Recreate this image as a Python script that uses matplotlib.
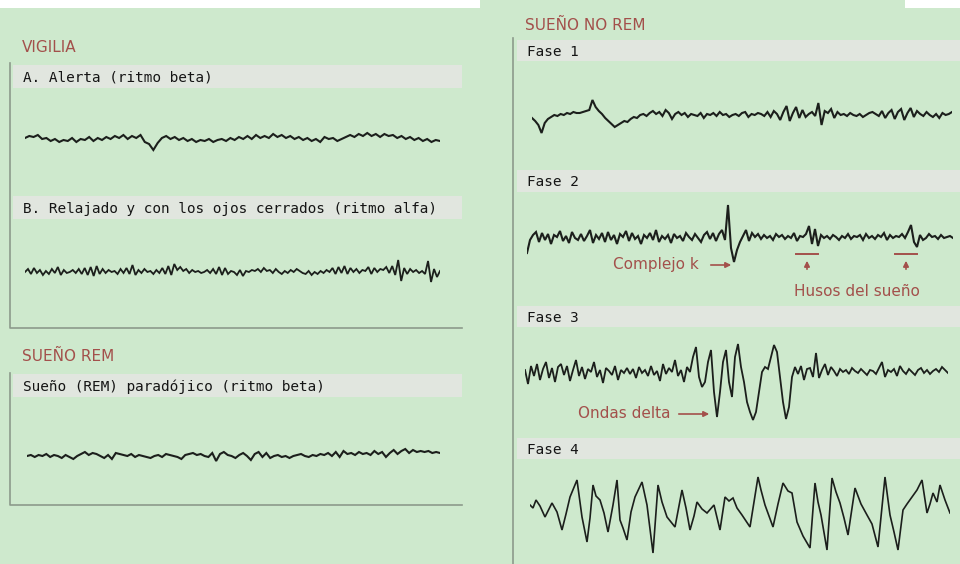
import numpy as np
import matplotlib
matplotlib.use("Agg")
import matplotlib.pyplot as plt
from matplotlib.patches import Rectangle

W, H = 960, 564
BG = "#cee9cd"
BAR = "#e1e6df"
RED = "#a3504b"
INK = "#1c1f1c"
EDGE = "#8c9a8b"

# EEG traces, amplitude in px-like units (up = positive), one value per sample
alerta = [2,4,3,5,1,2,-1,1,-2,0,-1,2,-2,1,0,3,-1,2,0,3,1,4,2,5,1,4,2,5,-2,-4,-10,-3,2,4,1,3,0,2,-1,1,
          -2,0,-1,1,-2,0,1,-1,2,0,3,1,4,1,5,2,4,2,6,3,5,2,4,1,3,0,2,-1,1,-2,3,1,2,-1,1,3,5,3,6,4,
          7,4,6,3,6,4,5,2,4,1,3,0,2,-1,1,-2,0,-1]
alfa = [0,3,-2,4,-1,2,-3,1,-2,3,-1,5,-3,2,-1,0,2,-1,3,-2,4,-3,5,-4,6,-2,3,-1,2,0,1,-2,3,-1,4,-2,7,-3,2,-1,
        3,0,1,-2,2,-1,4,-2,6,-3,8,2,5,1,3,-1,2,0,1,-1,0,2,-1,3,-2,5,-3,4,-2,1,0,-3,2,-4,1,0,2,1,3,0,
        4,1,2,-1,3,0,-2,1,-1,2,0,3,1,-1,-2,1,-3,0,-2,1,-1,2,0,4,-2,5,-1,6,-2,4,0,3,-1,2,1,5,-2,4,0,3,
        2,5,-1,6,-3,12,-9,4,-2,3,0,2,-1,1,-2,11,-10,3,-5,1]
rem = [0,1,-1,1,0,2,-1,1,0,-2,1,-1,-3,0,2,4,1,3,2,0,-2,1,-3,3,2,1,0,2,-1,1,0,-1,-2,0,1,-1,2,1,0,-1,
       -3,1,2,3,1,2,0,-1,3,-5,2,4,1,0,-2,1,3,0,-4,2,4,-1,3,-2,0,1,-1,0,-2,0,1,2,0,-1,1,0,2,1,3,0,
       4,-1,5,2,3,1,4,2,3,1,5,2,4,-1,3,6,2,5,7,3,6,4,5,4,5,3,4,3]
fase1 = [-3,-6,-10,-18,-8,-4,-2,0,-1,1,0,2,1,3,2,2,3,4,5,15,8,4,1,-3,-6,-9,-12,-10,-8,-6,-7,-4,-2,-3,0,1,-1,2,4,1,
         3,-1,5,2,-4,1,3,0,2,-2,1,0,-1,2,-3,1,0,2,-1,3,0,1,-2,0,1,-1,2,3,-2,1,0,2,1,-1,3,-2,4,1,-5,3,
         9,-6,2,8,-3,5,-2,1,3,-1,12,-10,4,2,6,-3,3,0,1,-1,2,0,-1,1,-2,0,2,3,1,-1,4,-3,2,5,-4,3,6,-5,2,7,
         -2,4,1,-1,3,0,-2,1,-3,2,0,1,3]
fase2 = [-15,-2,3,6,-4,5,-2,4,-6,3,1,7,-3,2,-5,6,0,-2,4,-3,2,8,-5,3,-1,5,-4,6,-2,3,-6,4,1,7,-3,5,-1,2,-6,3,
         0,5,-2,8,-4,2,-1,3,-5,4,0,2,-3,5,1,-2,4,0,-4,3,6,-1,5,-3,4,8,-2,33,-10,-24,-12,-4,2,8,-3,5,1,4,-1,3,
         0,2,-2,4,1,3,-1,2,0,5,-3,2,1,4,12,-6,9,-8,3,0,2,-1,3,1,-2,2,0,4,-1,2,1,3,-2,4,0,2,-1,3,1,5,
         -2,3,0,2,1,4,0,6,13,-4,-9,3,-2,0,4,1,2,-1,3,0,1,2,0]
fase3 = [2,-12,6,-4,8,-8,3,10,-6,4,-10,5,8,-3,6,-9,2,12,-4,5,-7,3,0,10,-5,2,-11,4,1,-3,
         6,-8,2,-1,4,-2,3,-6,5,-1,2,-4,6,-3,1,-9,8,-2,4,0,12,-4,2,-10,5,
         0,15,25,-5,-15,-10,10,22,-20,-45,-20,10,22,-10,-25,15,28,5,-10,-30,-40,-48,-40,-20,0,5,3,15,27,20,
         -5,-30,-47,-35,-5,5,
         -2,6,-8,3,4,-5,19,-6,2,8,-3,5,1,-4,3,0,2,-2,4,1,-1,3,0,-3,2,1,-2,4,10,-5,2,0,3,-4,6,1,-2,3,0,-3,
         2,4,-1,2,-2,1,3,0,5,2,-1]
fase4_t = [0,3,6,10,15,18,22,27,32,36,40,47,52,57,60,63,66,70,74,78,83,87,90,93,97,101,105,112,117,123,
           128,132,137,141,145,152,156,160,164,167,172,177,184,190,195,199,203,207,212,216,220,228,231,235,239,243,
           248,253,258,262,267,273,280,285,288,291,297,302,306,310,314,318,325,331,337,342,348,355,358,360,364,
           368,373,377,382,387,392,397,400,403,407,410,415,420]
fase4_v = [5,2,10,4,-7,-1,7,-2,-20,-4,13,30,-7,-32,-8,25,14,10,-3,-22,5,30,-10,-18,-30,-2,13,28,5,-43,
           25,8,-7,-12,-17,20,2,-20,-6,8,1,-3,5,-20,13,9,12,2,-5,-11,-17,33,20,5,-6,-17,
           6,27,19,17,-12,-26,-38,27,8,-5,-40,32,18,7,-8,-25,22,6,-5,-14,-37,33,10,-5,-22,
           -40,0,6,13,20,30,-3,6,17,8,25,10,-3]

fig = plt.figure(figsize=(W / 100, H / 100), dpi=100, facecolor=BG)
ax = fig.add_axes([0, 0, 1, 1])
ax.set_xlim(0, W)
ax.set_ylim(H, 0)
ax.axis("off")
ax.set_facecolor(BG)

# white strip at the top
ax.add_patch(Rectangle((0, 0), 480, 8, color="white", lw=0))
ax.add_patch(Rectangle((905, 0), 55, 8, color="white", lw=0))

def bar(x0, x1, y0, y1, label):
    ax.add_patch(Rectangle((x0, y0), x1 - x0, y1 - y0, color=BAR, lw=0))
    ax.text(x0 + 10, (y0 + y1) / 2 + 1, label, fontsize=10.4, color="#151515",
            va="center", ha="left", family="DejaVu Sans Mono")

def section(x, y, label):
    ax.text(x, y, label, fontsize=11, color=RED, va="center", ha="left", family="DejaVu Sans")

def trace(values, x0, x1, base, half=55, t=None, lw=1.5):
    a = fig.add_axes([x0 / W, 1 - (base + half) / H, (x1 - x0) / W, 2 * half / H])
    a.axis("off")
    if t is None:
        t = np.arange(len(values))
    a.set_xlim(min(t), max(t))
    a.set_ylim(-half, half)
    a.plot(t, values, color=INK, lw=lw, solid_joinstyle="miter")

# left column
section(22, 47, "VIGILIA")
ax.plot([10, 10, 462], [63, 328, 328], color=EDGE, lw=1.2)
bar(13, 462, 65, 88, "A. Alerta (ritmo beta)")
bar(13, 462, 196, 219, "B. Relajado y con los ojos cerrados (ritmo alfa)")

section(22, 356, "SUEÑO REM")
ax.plot([10, 10, 462], [373, 505, 505], color=EDGE, lw=1.2)
bar(13, 462, 374, 397, "Sueño (REM) paradójico (ritmo beta)")

# right column
section(525, 25, "SUEÑO NO REM")
ax.plot([513, 513], [38, 564], color=EDGE, lw=1.2)
bar(517, 960, 40, 61, "Fase 1")
bar(517, 960, 170, 192, "Fase 2")
bar(517, 960, 306, 327, "Fase 3")
bar(517, 960, 438, 459, "Fase 4")

trace(alerta, 25, 440, 140)
trace(alfa, 25, 440, 272, lw=1.3)
trace(rem, 27, 440, 456)
trace(fase1, 532, 952, 115)
trace(fase2, 527, 953, 238)
trace(fase3, 525, 948, 372, lw=1.3)
trace(fase4_v, 530, 950, 510, t=fase4_t, lw=1.2)

# annotations
ax.text(613, 265, "Complejo k", fontsize=11, color=RED, va="center", ha="left")
ax.annotate("", xy=(734, 265), xytext=(708, 265),
            arrowprops=dict(arrowstyle="-|>", color=RED, lw=1.2, mutation_scale=8))
for xc in (807, 906):
    ax.plot([xc - 11, xc + 11], [254, 254], color=RED, lw=1.4)
    ax.annotate("", xy=(xc, 258), xytext=(xc, 272),
                arrowprops=dict(arrowstyle="-|>", color=RED, lw=1.2, mutation_scale=8))
ax.text(857, 291, "Husos del sueño", fontsize=11, color=RED, va="center", ha="center")
ax.text(578, 413, "Ondas delta", fontsize=11, color=RED, va="center", ha="left")
ax.annotate("", xy=(712, 414), xytext=(676, 414),
            arrowprops=dict(arrowstyle="-|>", color=RED, lw=1.2, mutation_scale=8))

fig.savefig("out.png", dpi=100, facecolor=BG)
